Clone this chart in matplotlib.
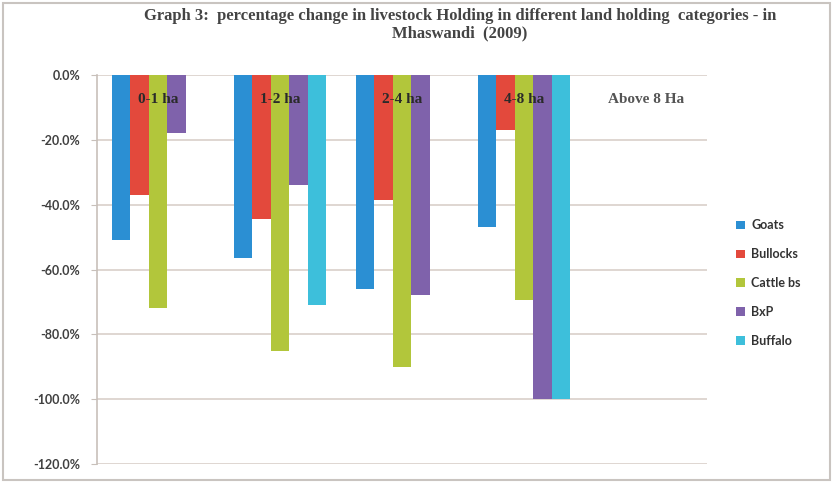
import matplotlib as mpl
mpl.use('Agg')
import matplotlib.pyplot as plt
import numpy as np

# Data (percentage change)
categories = ['0-1 ha', '1-2 ha', '2-4 ha', '4-8 ha', 'Above 8 Ha']
series = ['Goats', 'Bullocks', 'Cattle bs', 'BxP', 'Buffalo']
goats = [-51.0, -56.5, -66.0, -47.0, 0.0]
bullocks = [-37.0, -44.5, -38.5, -17.0, 0.0]
cattle = [-72.0, -85.0, -90.0, -69.5, 0.0]
bxp = [-18.0, -34.0, -68.0, -100.0, 0.0]
buffalo = [0.0, -71.0, 0.0, -100.0, 0.0]
yticks = [0, -20, -40, -60, -80, -100, -120]

colors = ['#2b8fd3', '#e3493c', '#b2c63b', '#7f62ab', '#3dbfdb']
values = [goats, bullocks, cattle, bxp, buffalo]

fig = plt.figure(figsize=(8.33, 4.83), dpi=100)
fig.patch.set_facecolor('white')
ax = fig.add_axes([0.1165, 0.0393, 0.732, 0.8054])

x = np.arange(len(categories))
w = 0.152
for i, (name, vals) in enumerate(zip(series, values)):
    ax.bar(x + (i - 2) * w, vals, width=w, color=colors[i], label=name, zorder=3)

ax.set_xlim(-0.5, len(categories) - 0.5)
ax.set_ylim(-120, 0)
ax.set_yticks(yticks)
ax.set_yticklabels(['%.1f%%' % v for v in yticks], fontsize=9, fontweight='bold',
                   color='#404040', family='Lato')
ax.set_xticks([])
ax.yaxis.grid(True, color='#d9d0ca', linewidth=1.2, zorder=0)
ax.tick_params(axis='y', length=4, color='#c8c0ba', pad=8)
for s in ['top', 'right', 'bottom']:
    ax.spines[s].set_visible(False)
ax.spines['left'].set_color('#c8c0ba')
ax.spines['left'].set_linewidth(1.2)

# category labels sit near the zero line
for xi, c in zip(x, categories):
    col = '#555555' if c.startswith('Above') else '#2a2a2a'
    ax.text(xi, -7.7, c, ha='center', va='center', fontsize=11, fontweight='bold',
            color=col, family='Liberation Serif', zorder=4)

leg = ax.legend(loc='center left', bbox_to_anchor=(1.03, 0.465), frameon=False,
                prop={'family': 'Lato', 'weight': 'bold', 'size': 9},
                handlelength=0.7, handleheight=0.7, labelspacing=1.35, handletextpad=0.5)
for t in leg.get_texts():
    t.set_color('#333333')

fig.text(0.552, 0.967, 'Graph 3:  percentage change in livestock Holding in different land holding  categories - in',
         ha='center', va='center', fontsize=12, fontweight='bold', family='Liberation Serif', color='#444444')
fig.text(0.552, 0.930, 'Mhaswandi  (2009)', ha='center', va='center', fontsize=12,
         fontweight='bold', family='Liberation Serif', color='#444444')

# chart border
fig.patches.append(mpl.patches.Rectangle((0.004, 0.006), 0.992, 0.988, transform=fig.transFigure,
                                         fill=False, edgecolor='#c9c4c0', linewidth=1.5))

fig.savefig('out.png', dpi=100)
